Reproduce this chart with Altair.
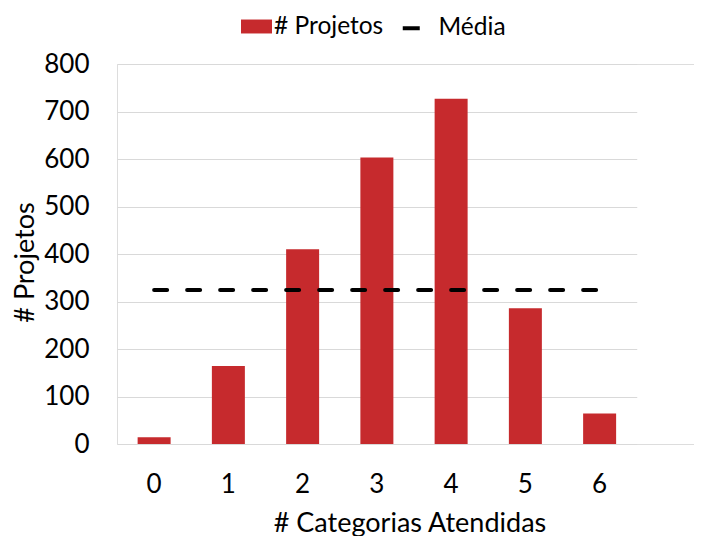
import altair as alt
import pandas as pd

categorias = ["0", "1", "2", "3", "4", "5", "6"]
projetos = [14, 164, 410, 603, 727, 286, 64]
y_ticks = [0, 100, 200, 300, 400, 500, 600, 700, 800]

FONT = "Lato"
RED = "#c62a2d"

df = pd.DataFrame({"categoria": categorias, "projetos": projetos})

x_scale = alt.Scale(domain=categorias, range=[0, 519.75],
                    paddingInner=0.5556, paddingOuter=0.2778)

x_enc = alt.X(
    "categoria:O", sort=categorias, scale=x_scale,
    axis=alt.Axis(title="# Categorias Atendidas", labelAngle=0, domain=False,
                  ticks=False, labelPadding=27, labelFontSize=26,
                  titleFontSize=27, titleFontWeight="normal",
                  titleBaseline="alphabetic", titleX=292.5, titleY=87,
                  labelFont=FONT, titleFont=FONT, labelColor="black",
                  titleColor="black"),
)

y_scale = alt.Scale(domain=[0, 800], nice=False)
y_axis = alt.Axis(values=y_ticks, title="# Projetos", domain=False, ticks=False,
                  grid=True, gridColor="#d9d9d9", gridWidth=1,
                  labelPadding=28, labelFontSize=26, titleFontSize=27,
                  titleFontWeight="normal", titleBaseline="alphabetic",
                  titleX=-84, titleY=198, labelFont=FONT,
                  titleFont=FONT, labelColor="black", titleColor="black")

bars = alt.Chart(df).transform_calculate(serie="'# Projetos'").mark_bar(
    color=RED
).encode(
    x=x_enc,
    y=alt.Y("projetos:Q", scale=y_scale, axis=y_axis),
    fill=alt.Fill("serie:N", scale=alt.Scale(domain=["# Projetos"], range=[RED]),
                  legend=alt.Legend(orient="none", legendX=124, legendY=-53,
                                    title=None, symbolType="M-1,-0.45H1V0.45H-1Z",
                                    symbolSize=961, symbolStrokeWidth=0,
                                    labelFontSize=24.5, labelFont=FONT,
                                    labelColor="black", labelOffset=2,
                                    padding=0)),
)

media = alt.Chart(df).transform_joinaggregate(
    media="mean(projetos)"
).transform_calculate(serie2="'Média'").mark_line(
    strokeWidth=4, strokeDash=[13, 20], strokeCap="round"
).encode(
    x=alt.X("categoria:O", sort=categorias, scale=x_scale),
    y=alt.Y("media:Q", scale=y_scale),
    stroke=alt.Stroke("serie2:N", scale=alt.Scale(domain=["Média"], range=["black"]),
                      legend=alt.Legend(orient="none", legendX=282, legendY=-48,
                                        title=None, symbolType="stroke",
                                        symbolSize=289, symbolStrokeWidth=4,
                                        symbolDash=[100, 0],
                                        labelFontSize=24.5, labelFont=FONT,
                                        labelColor="black", labelOffset=15,
                                        padding=0)),
)

chart = alt.layer(bars, media).properties(
    width=577, height=380,
    autosize=alt.AutoSizeParams(type="none"),
    padding={"left": 109, "top": 56, "right": 0, "bottom": 92},
).configure_view(fill="#f2f2f2", stroke="transparent").configure(background="white")

chart.save("out.html", embed_options={"renderer": "svg", "actions": False})
